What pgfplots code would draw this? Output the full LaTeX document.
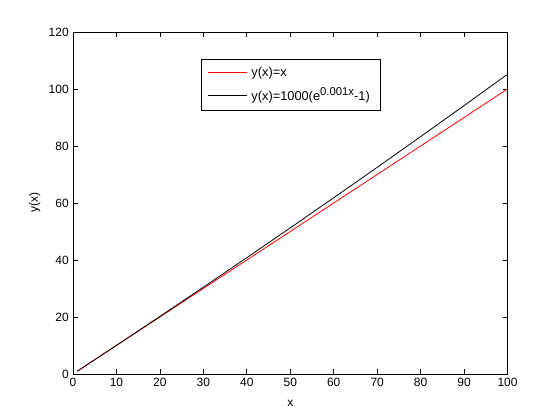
\documentclass[border=0pt]{standalone}
\usepackage{pgfplots}
\pgfplotsset{compat=1.18}
\usepackage{fontspec}
\setmainfont{Liberation Sans}
\begin{document}
\fontsize{9}{10.8}\selectfont
\begin{tikzpicture}
\path[use as bounding box] (-54.75pt,-34.5pt) rectangle (365.25pt,280.5pt);
\begin{axis}[
  at={(0,0)}, anchor=south west,
  scale only axis,
  width=325.9pt, height=256.5pt,
  xmin=0, xmax=100, ymin=0, ymax=120,
  xtick={0,10,...,100}, ytick={0,20,...,120},
  tick align=inside,
  major tick length=3.5pt,
  tick style={black, line width=0.5pt},
  axis line style={line width=0.5pt},
  /pgf/number format/assume math mode=true,
  ticklabel style={font=\fontsize{9}{10.8}\selectfont},
  xlabel={x}, ylabel={y(x)},
  label style={font=\fontsize{9}{10.8}\selectfont},
  xlabel style={yshift=-4pt},
  ylabel style={yshift=0pt},
  legend style={at={(0.2946,0.921)}, anchor=north west, draw=black, line width=0.5pt,
    font=\fontsize{9.6}{11.5}\selectfont, inner xsep=5pt, inner ysep=4pt,
    row sep=3pt, legend cell align=left,
    nodes={inner xsep=3pt}},
  legend image code/.code={\draw[#1] (0pt,0pt) -- (29pt,0pt);},
]
\addplot[red, line width=0.6pt] coordinates {(1,1) (100,100)};
\addlegendentry{y(x)=x}
\addplot[black, line width=0.6pt] coordinates {
(1,1.0005) (10,10.0502) (20,20.2013) (30,30.4545) (40,40.8108) (50,51.2711)
(60,61.8365) (70,72.5082) (80,83.2871) (90,94.1743) (100,105.1709)};
\addlegendentry{y(x)=1000(e\raisebox{0.75ex}{\fontsize{8.5}{9}\selectfont 0.001x}-1)}
\end{axis}
\end{tikzpicture}
\end{document}
